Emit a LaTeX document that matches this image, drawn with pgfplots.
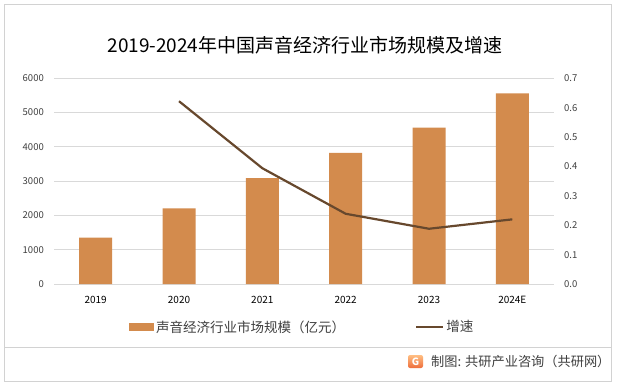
\documentclass[border=0pt]{standalone}
\usepackage{pgfplots}
\pgfplotsset{compat=1.18}
\usepackage{fontspec}
\setmainfont{Noto Sans CJK SC}
\definecolor{barc}{RGB}{211,139,77}
\definecolor{linec}{RGB}{103,72,45}
\definecolor{gridc}{RGB}{217,217,217}
\definecolor{tickc}{RGB}{64,64,64}
\definecolor{framec}{RGB}{210,210,210}
\begin{document}
\begin{tikzpicture}
\useasboundingbox (0,0) rectangle (617pt,386pt);
\fill[white] (0,0) rectangle (617pt,386pt);
\draw[framec, line width=0.8pt] (4.5pt,4.5pt) rectangle (611pt,382pt);
\node[inner sep=0pt] at (305pt,341pt) {\fontsize{19}{22}\selectfont 2019-2024年中国声音经济行业市场规模及增速};
\begin{axis}[
  at={(54pt,102pt)}, anchor=south west, scale only axis,
  width=500pt, height=205.7pt,
  xmin=-0.5, xmax=5.5, ymin=0, ymax=6000,
  ytick={0,1000,2000,3000,4000,5000,6000},
  xtick={0,1,2,3,4,5},
  xticklabels={2019,2020,2021,2022,2023,2024E},
  axis line style={draw=none},
  major tick length=0pt,
  ymajorgrids, grid style={gridc, line width=0.8pt},
  /pgf/number format/1000 sep={},
  /pgf/number format/assume math mode=true,
  yticklabel style={font=\fontsize{9.5}{11}\selectfont, text=tickc, anchor=east, inner sep=0pt, xshift=-10pt},
  xticklabel style={font=\fontsize{10}{11}\selectfont, text=black, anchor=north, inner sep=0pt, yshift=-12pt},
  ybar, bar width=33pt,
  legend columns=2,
  legend style={at={(0.15,-0.209)}, anchor=west, draw=none, fill=none, inner sep=0pt,
    font=\fontsize{13.5}{15}\selectfont, text=tickc,
    nodes={inner sep=2pt},
    /tikz/every even column/.append style={column sep=68pt}},
  legend cell align=left,
]
\addplot[fill=barc, draw=none,
  legend image code/.code={\fill[barc] (0pt,-3.7pt) rectangle (25pt,3.7pt);}]
  coordinates {(0,1353) (1,2206) (2,3088) (3,3824) (4,4559) (5,5559)};
\addlegendentry{声音经济行业市场规模（亿元）}
\addlegendimage{legend image code/.code={\draw[linec, line width=2.2pt] (0pt,0pt) -- (27pt,0pt);}}
\addlegendentry{增速}
\end{axis}
\begin{axis}[
  at={(54pt,102pt)}, anchor=south west, scale only axis,
  width=500pt, height=205.7pt,
  xmin=-0.5, xmax=5.5, ymin=0, ymax=0.7,
  ytick={0,0.1,0.2,0.3,0.4,0.5,0.6,0.7},
  axis y line*=right, hide x axis,
  axis line style={draw=none},
  major tick length=0pt,
  /pgf/number format/fixed, /pgf/number format/fixed zerofill,
  /pgf/number format/precision=1,
  /pgf/number format/assume math mode=true,
  yticklabel style={font=\fontsize{9.5}{11}\selectfont, text=tickc, anchor=west, inner sep=0pt, xshift=10pt},
]
\addplot[linec, line width=2.2pt, mark=none]
  coordinates {(1,0.622) (2,0.394) (3,0.239) (4,0.188) (5,0.220)};
\end{axis}
\draw[framec, line width=0.8pt] (4.5pt,38.3pt) -- (611pt,38.3pt);
\shade[top color={rgb,255:red,255;green,190;blue,130}, bottom color={rgb,255:red,238;green,110;blue,60}, rounded corners=2pt] (408pt,18pt) rectangle (423pt,31pt);
\node[text=white, inner sep=0pt, font=\fontsize{10}{10}\selectfont\bfseries] at (415.5pt,24.5pt) {G};
\node[anchor=west, inner sep=0pt, text=tickc, font=\fontsize{13.2}{15}\selectfont] at (431pt,24.5pt) {制图: 共研产业咨询（共研网）};
\end{tikzpicture}
\end{document}
